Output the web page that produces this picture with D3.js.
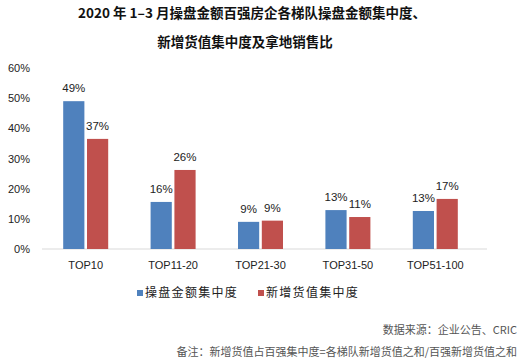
<!DOCTYPE html>
<html>
<head>
<meta charset="utf-8">
<script src="https://cdn.jsdelivr.net/npm/d3@7"></script>
<style>
  body { margin: 0; background: #fff; }
  svg text { font-family: "Microsoft YaHei", "Noto Sans CJK SC", sans-serif; }
</style>
</head>
<body>
<div id="chart"></div>
<script>
// categories and series
var categories = ["TOP10", "TOP11-20", "TOP21-30", "TOP31-50", "TOP51-100"];
var seriesNames = ["操盘金额集中度", "新增货值集中度"];
var operateShare = [49, 15.6, 9.0, 12.9, 12.6];
var newStockShare = [36.5, 26.2, 9.4, 10.6, 16.6];
var yTicks = [0, 10, 20, 30, 40, 50, 60];
var colors = ["#4F81BD", "#C0504D"];

var width = 531, height = 363;

var svg = d3.select("#chart").append("svg")
    .attr("width", width)
    .attr("height", height);

// Title, two lines
svg.append("text")
    .attr("x", 252).attr("y", 18)
    .attr("text-anchor", "middle")
    .style("font-size", "13.5px").style("font-weight", "bold").style("fill", "#111")
    .text("2020 年 1–3 月操盘金额百强房企各梯队操盘金额集中度、");
svg.append("text")
    .attr("x", 245).attr("y", 47)
    .attr("text-anchor", "middle")
    .style("font-size", "13.5px").style("font-weight", "bold").style("fill", "#111")
    .text("新增货值集中度及拿地销售比");

// scales
var x = d3.scaleBand().domain(categories).range([42, 479]);
var y = d3.scaleLinear().domain([0, 60]).range([249, 68]);
var inner = d3.scaleBand().domain([0, 1]).range([-22.5, 22.5]).paddingInner(0.11);

// y axis labels only, no line
var yAxis = d3.axisLeft(y).tickValues(yTicks).tickSize(0).tickPadding(0)
    .tickFormat(function(d){ return d + "%"; });
var gy = svg.append("g").attr("transform", "translate(30,0)").call(yAxis);
gy.select(".domain").remove();
gy.selectAll("text").style("font-size", "11px").style("fill", "#222")
    .style("font-family", "Arial, 'Liberation Sans', sans-serif");

// x axis
var xAxis = d3.axisBottom(x).tickSize(0).tickPadding(12);
var gx = svg.append("g").attr("transform", "translate(0,249)").call(xAxis);
gx.select(".domain").attr("d", "M0,0H445").attr("transform", "translate(42,0)").attr("stroke", "#d9d9d9");
gx.selectAll("text").style("font-size", "11px").style("fill", "#222")
    .style("font-family", "Arial, 'Liberation Sans', sans-serif");

var rows = categories.map(function(c, i){
  return {cat: c, vals: [operateShare[i], newStockShare[i]]};
});

var groups = svg.append("g").selectAll("g")
    .data(rows)
  .enter().append("g")
    .attr("transform", function(d){ return "translate(" + (x(d.cat) + x.bandwidth() / 2) + ",0)"; });

groups.selectAll("rect")
    .data(function(d){ return d.vals; })
  .enter().append("rect")
    .attr("x", function(d, i){ return inner(i); })
    .attr("width", inner.bandwidth())
    .attr("y", function(d){ return y(d); })
    .attr("height", function(d){ return y(0) - y(d); })
    .style("fill", function(d, i){ return colors[i]; });

groups.selectAll("text.lbl")
    .data(function(d){ return d.vals; })
  .enter().append("text")
    .attr("class", "lbl")
    .attr("x", function(d, i){ return inner(i) + inner.bandwidth() / 2; })
    .attr("y", function(d){ return y(d) - 9; })
    .attr("text-anchor", "middle")
    .style("font-size", "11.5px").style("fill", "#222")
    .style("font-family", "Arial, 'Liberation Sans', sans-serif")
    .text(function(d){ return Math.round(d) + "%"; });

// legend
var legendX = [137, 258];
var legend = svg.append("g").selectAll("g")
    .data(seriesNames)
  .enter().append("g")
    .attr("transform", function(d, i){ return "translate(" + legendX[i] + ",293)"; });
legend.append("rect")
    .attr("x", 0).attr("y", -3).attr("width", 6).attr("height", 6)
    .style("fill", function(d, i){ return colors[i]; });
legend.append("text")
    .attr("x", 8).attr("dy", "0.35em")
    .style("font-size", "12px").style("letter-spacing", "1.3px").style("fill", "#222")
    .text(function(d){ return d; });

// source notes
svg.append("text")
    .attr("x", 517).attr("y", 334)
    .attr("text-anchor", "end")
    .style("font-size", "11px").style("fill", "#555")
    .text("数据来源：企业公告、CRIC");
svg.append("text")
    .attr("x", 517).attr("y", 356)
    .attr("text-anchor", "end")
    .style("font-size", "11px").style("fill", "#555")
    .text("备注：新增货值占百强集中度=各梯队新增货值之和/百强新增货值之和");
</script>
</body>
</html>
